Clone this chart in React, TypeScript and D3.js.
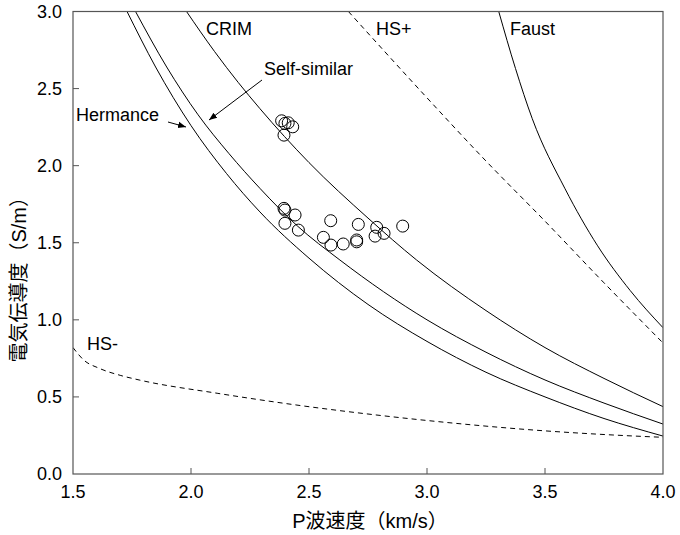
import React from "react";
import * as d3 from "d3";

// model curves: [P-wave velocity km/s, conductivity S/m]
const hermance: [number, number][] = [
  [1.729, 3.0], [1.85, 2.64], [2.0, 2.26], [2.15, 1.95], [2.292, 1.7], [2.5, 1.4],
  [2.75, 1.1], [3.0, 0.86], [3.25, 0.66], [3.5, 0.5], [3.75, 0.36], [4.0, 0.246],
];
const selfSimilar: [number, number][] = [
  [1.765, 3.0], [1.897, 2.64], [2.03, 2.33], [2.16, 2.08], [2.292, 1.853], [2.45, 1.61],
  [2.631, 1.388], [3.0, 1.0], [3.25, 0.79], [3.5, 0.61], [3.75, 0.46], [4.0, 0.324],
];
const crim: [number, number][] = [
  [1.981, 3.0], [2.1, 2.74], [2.2, 2.54], [2.292, 2.37], [2.5, 2.02], [2.75, 1.66],
  [2.956, 1.388], [3.25, 1.06], [3.5, 0.82], [3.75, 0.62], [4.0, 0.437],
];
const hsPlus: [number, number][] = [
  [2.667, 3.0], [3.0, 2.44], [3.25, 2.03], [3.5, 1.64], [3.75, 1.24], [4.0, 0.85],
];
const faust: [number, number][] = [
  [3.304, 3.0], [3.375, 2.63], [3.446, 2.305], [3.585, 1.85], [3.723, 1.48], [3.861, 1.19], [4.0, 0.949],
];
const hsMinus: [number, number][] = [
  [1.5, 0.82], [1.545, 0.74], [1.612, 0.685], [1.7, 0.64], [1.78, 0.61], [2.114, 0.523],
  [2.449, 0.447], [2.784, 0.383], [3.119, 0.329], [3.453, 0.285], [3.788, 0.253], [4.0, 0.238],
];

// measured samples
const sampleVp = [
  2.384, 2.398, 2.412, 2.431, 2.394,
  2.394, 2.398, 2.441, 2.398, 2.455, 2.592, 2.561, 2.593, 2.645, 2.702, 2.702, 2.709, 2.78, 2.787, 2.818, 2.897,
];
const sampleSigma = [
  2.291, 2.274, 2.278, 2.252, 2.198,
  1.723, 1.712, 1.68, 1.626, 1.582, 1.643, 1.535, 1.485, 1.492, 1.518, 1.506, 1.619, 1.543, 1.6, 1.561, 1.608,
];

const xTicks = [1.5, 2.0, 2.5, 3.0, 3.5, 4.0];
const yTicks = [0, 0.5, 1.0, 1.5, 2.0, 2.5, 3.0];

const W = 680;
const H = 535;
const m = { left: 73, right: 17, top: 11.5, bottom: 61 };
const font = "'Liberation Sans', 'Noto Sans CJK JP', sans-serif";

export default function App() {
  const x = d3.scaleLinear().domain([1.5, 4.0]).range([m.left, W - m.right]);
  const y = d3.scaleLinear().domain([0, 3.0]).range([H - m.bottom, m.top]);
  const line = d3
    .line<[number, number]>()
    .x((d) => x(d[0]))
    .y((d) => y(d[1]))
    .curve(d3.curveMonotoneX);

  const solid = [hermance, selfSimilar, crim, faust];
  const dashed = [hsPlus, hsMinus];
  const x0 = m.left, x1 = W - m.right, y0 = H - m.bottom, y1 = m.top;

  return (
    <svg width={W} height={H} style={{ position: "absolute", left: 0, top: 0, background: "#fff" }} fontFamily={font}>
      <defs>
        <marker id="arr" viewBox="0 0 10 10" refX="10" refY="5" markerWidth="8" markerHeight="8" orient="auto-start-reverse">
          <path d="M0,1 L10,5 L0,9 z" fill="#000" />
        </marker>
        <clipPath id="plot">
          <rect x={x0} y={y1} width={x1 - x0} height={y0 - y1} />
        </clipPath>
      </defs>

      <g clipPath="url(#plot)" fill="none" stroke="#000" strokeWidth={1}>
        {solid.map((c, i) => (
          <path key={"s" + i} d={line(c) || ""} />
        ))}
        {dashed.map((c, i) => (
          <path key={"d" + i} d={line(c) || ""} strokeDasharray="5,4" />
        ))}
      </g>

      {sampleVp.map((v, i) => (
        <circle key={i} cx={x(v)} cy={y(sampleSigma[i])} r={6} fill="none" stroke="#000" strokeWidth={1} />
      ))}

      {/* frame */}
      <rect x={x0} y={y1} width={x1 - x0} height={y0 - y1} fill="none" stroke="#555" strokeWidth={1.2} />
      {xTicks.slice(1, -1).map((t) => (
        <line key={t} x1={x(t)} x2={x(t)} y1={y0} y2={y0 - 6} stroke="#555" />
      ))}
      {yTicks.slice(1, -1).map((t) => (
        <line key={t} x1={x0} x2={x0 + 6} y1={y(t)} y2={y(t)} stroke="#555" />
      ))}

      <g fontSize={18} fill="#000">
        {xTicks.map((t) => (
          <text key={t} x={x(t)} y={y0 + 24} textAnchor="middle">{t.toFixed(1)}</text>
        ))}
        {yTicks.map((t) => (
          <text key={t} x={x0 - 11} y={y(t) + 6} textAnchor="end">{t.toFixed(1)}</text>
        ))}
        <text x={(x0 + x1) / 2 + 2} y={H - 7} textAnchor="middle" fontSize={20}>P波速度（km/s）</text>
        <text transform={`translate(26,${(y0 + y1) / 2 + 32}) rotate(-90)`} textAnchor="middle" fontSize={20}>電気伝導度（S/m）</text>

        <text x={206} y={35}>CRIM</text>
        <text x={376} y={35}>HS+</text>
        <text x={510} y={35}>Faust</text>
        <text x={264} y={75}>Self-similar</text>
        <text x={76} y={121}>Hermance</text>
        <text x={87} y={350}>HS-</text>
      </g>

      <line x1={262} y1={80} x2={209} y2={120} stroke="#000" markerEnd="url(#arr)" />
      <line x1={168} y1={122} x2={186} y2={127} stroke="#000" markerEnd="url(#arr)" />
    </svg>
  );
}
